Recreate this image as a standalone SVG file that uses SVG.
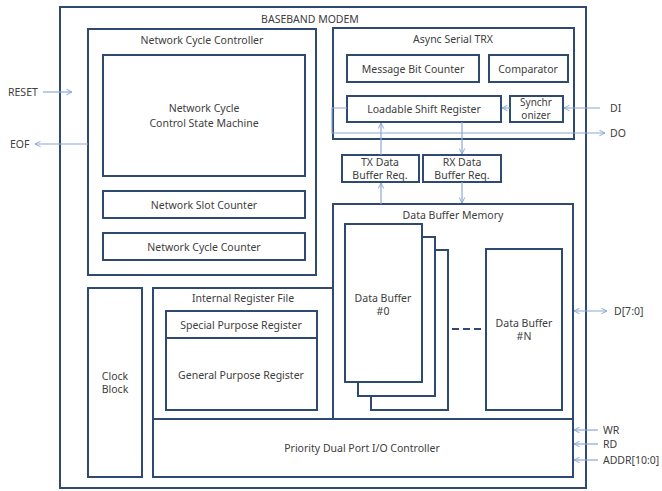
<svg xmlns="http://www.w3.org/2000/svg" width="662" height="491" viewBox="0 0 662 491">
<defs>
<marker id="ah" viewBox="0 0 10 10" refX="9" refY="5" markerWidth="7" markerHeight="7" orient="auto-start-reverse" markerUnits="userSpaceOnUse">
<path d="M1,1 L9,5 L1,9" fill="none" stroke="#8aa8d4" stroke-width="1.4"/>
</marker>
</defs>
<style>
.b{fill:#fff;stroke:#2f4a70;stroke-width:2}
.t{font-family:"Noto Sans","Liberation Sans",sans-serif;font-size:10.5px;fill:#404040;text-anchor:middle}
.s{font-size:10px}
.l{font-family:"Noto Sans","Liberation Sans",sans-serif;font-size:10.5px;fill:#404040}
.c{fill:none;stroke:#8aa8d4;stroke-width:1.2}
</style>
<rect width="662" height="491" fill="#fff"/>
<g id="baseband-modem">
<rect class="b" x="60" y="7" width="526" height="481"/>
<text class="t" x="310" y="23">BASEBAND MODEM</text>
</g>
<g id="network-cycle-controller">
<rect class="b" x="88" y="29" width="228" height="246"/>
<text class="t" x="202" y="44">Network Cycle Controller</text>
</g>
<g id="state-machine">
<rect class="b" x="103" y="55" width="202" height="121"/>
<text class="t" x="204" y="112">Network Cycle</text>
<text class="t" x="204" y="127">Control State Machine</text>
</g>
<g id="network-slot-counter">
<rect class="b" x="103" y="191" width="202" height="27"/>
<text class="t" x="204" y="209">Network Slot Counter</text>
</g>
<g id="network-cycle-counter">
<rect class="b" x="103" y="233" width="202" height="27"/>
<text class="t" x="204" y="251">Network Cycle Counter</text>
</g>
<g id="async-serial-trx">
<rect class="b" x="333" y="28" width="241" height="111"/>
<text class="t" x="453" y="43">Async Serial TRX</text>
</g>
<g id="message-bit-counter">
<rect class="b" x="347" y="55" width="132" height="27"/>
<text class="t" x="413" y="73">Message Bit Counter</text>
</g>
<g id="comparator">
<rect class="b" x="489" y="55" width="79" height="27"/>
<text class="t" x="528" y="73">Comparator</text>
</g>
<g id="loadable-shift-register">
<rect class="b" x="347" y="96" width="154" height="26"/>
<text class="t" x="424" y="113">Loadable Shift Register</text>
</g>
<g id="synchronizer">
<rect class="b" x="510" y="96" width="53" height="26"/>
<text class="t s" x="536" y="106">Synchr</text>
<text class="t s" x="536" y="119">onizer</text>
</g>
<g id="tx-data-buffer-req">
<rect class="b" x="342" y="155" width="77" height="27"/>
<text class="t" x="380" y="166">TX Data</text>
<text class="t" x="380" y="179">Buffer Req.</text>
</g>
<g id="rx-data-buffer-req">
<rect class="b" x="423" y="155" width="78" height="27"/>
<text class="t" x="462" y="166">RX Data</text>
<text class="t" x="462" y="179">Buffer Req.</text>
</g>
<g id="data-buffer-memory">
<rect class="b" x="333" y="204" width="240" height="215"/>
<text class="t" x="453" y="219">Data Buffer Memory</text>
</g>
<g id="data-buffer-0">
<rect class="b" x="371" y="250" width="77" height="160"/>
<rect class="b" x="358" y="237" width="77" height="159"/>
<rect class="b" x="345" y="224" width="77" height="158"/>
<text class="t" x="383" y="302">Data Buffer</text>
<text class="t" x="383" y="315">#0</text>
</g>
<g id="data-buffer-n">
<rect class="b" x="486" y="249" width="76" height="161"/>
<text class="t" x="524" y="327">Data Buffer</text>
<text class="t" x="524" y="340">#N</text>
</g>
<g id="ellipsis">
<line x1="452" y1="329" x2="483" y2="329" stroke="#2f4a70" stroke-width="2" stroke-dasharray="7,4"/>
</g>
<g id="clock-block">
<rect class="b" x="88" y="288" width="54" height="189"/>
<text class="t" x="115" y="380">Clock</text>
<text class="t" x="115" y="393">Block</text>
</g>
<g id="internal-register-file">
<rect class="b" x="153" y="288" width="180" height="131"/>
<text class="t" x="243" y="302">Internal Register File</text>
</g>
<g id="special-purpose-register">
<rect class="b" x="166" y="311" width="151" height="27"/>
<text class="t" x="241" y="329">Special Purpose Register</text>
</g>
<g id="general-purpose-register">
<rect class="b" x="166" y="338" width="151" height="72"/>
<text class="t" x="241" y="379">General Purpose Register</text>
</g>
<g id="priority-io-controller">
<rect class="b" x="153" y="419" width="420" height="58"/>
<text class="t" x="362" y="452">Priority Dual Port I/O Controller</text>
</g>
<g id="connectors">
<line class="c" x1="43" y1="92" x2="72" y2="92" marker-end="url(#ah)"/>
<line class="c" x1="88" y1="144" x2="35" y2="144" marker-end="url(#ah)"/>
<line class="c" x1="600" y1="108" x2="564" y2="108" marker-end="url(#ah)"/>
<line class="c" x1="510" y1="108" x2="502" y2="108" marker-end="url(#ah)"/>
<polyline class="c" points="347,108 332,108 332,133 605,133" marker-end="url(#ah)"/>
<line class="c" x1="381" y1="155" x2="381" y2="123" marker-end="url(#ah)"/>
<line class="c" x1="381" y1="204" x2="381" y2="183" marker-end="url(#ah)"/>
<line class="c" x1="462" y1="122" x2="462" y2="154" marker-end="url(#ah)"/>
<line class="c" x1="462" y1="182" x2="462" y2="203" marker-end="url(#ah)"/>
<line class="c" x1="574" y1="311" x2="607" y2="311" marker-start="url(#ah)" marker-end="url(#ah)"/>
<line class="c" x1="598" y1="430" x2="574" y2="430" marker-end="url(#ah)"/>
<line class="c" x1="598" y1="444" x2="574" y2="444" marker-end="url(#ah)"/>
<line class="c" x1="598" y1="460" x2="574" y2="460" marker-end="url(#ah)"/>
</g>
<g id="labels">
<text class="l" x="8" y="96">RESET</text>
<text class="l" x="10" y="148">EOF</text>
<text class="l" x="610" y="112">DI</text>
<text class="l" x="610" y="137">DO</text>
<text class="l" x="614" y="315">D[7:0]</text>
<text class="l" x="603" y="434">WR</text>
<text class="l" x="603" y="448">RD</text>
<text class="l" x="603" y="464">ADDR[10:0]</text>
</g>
</svg>
